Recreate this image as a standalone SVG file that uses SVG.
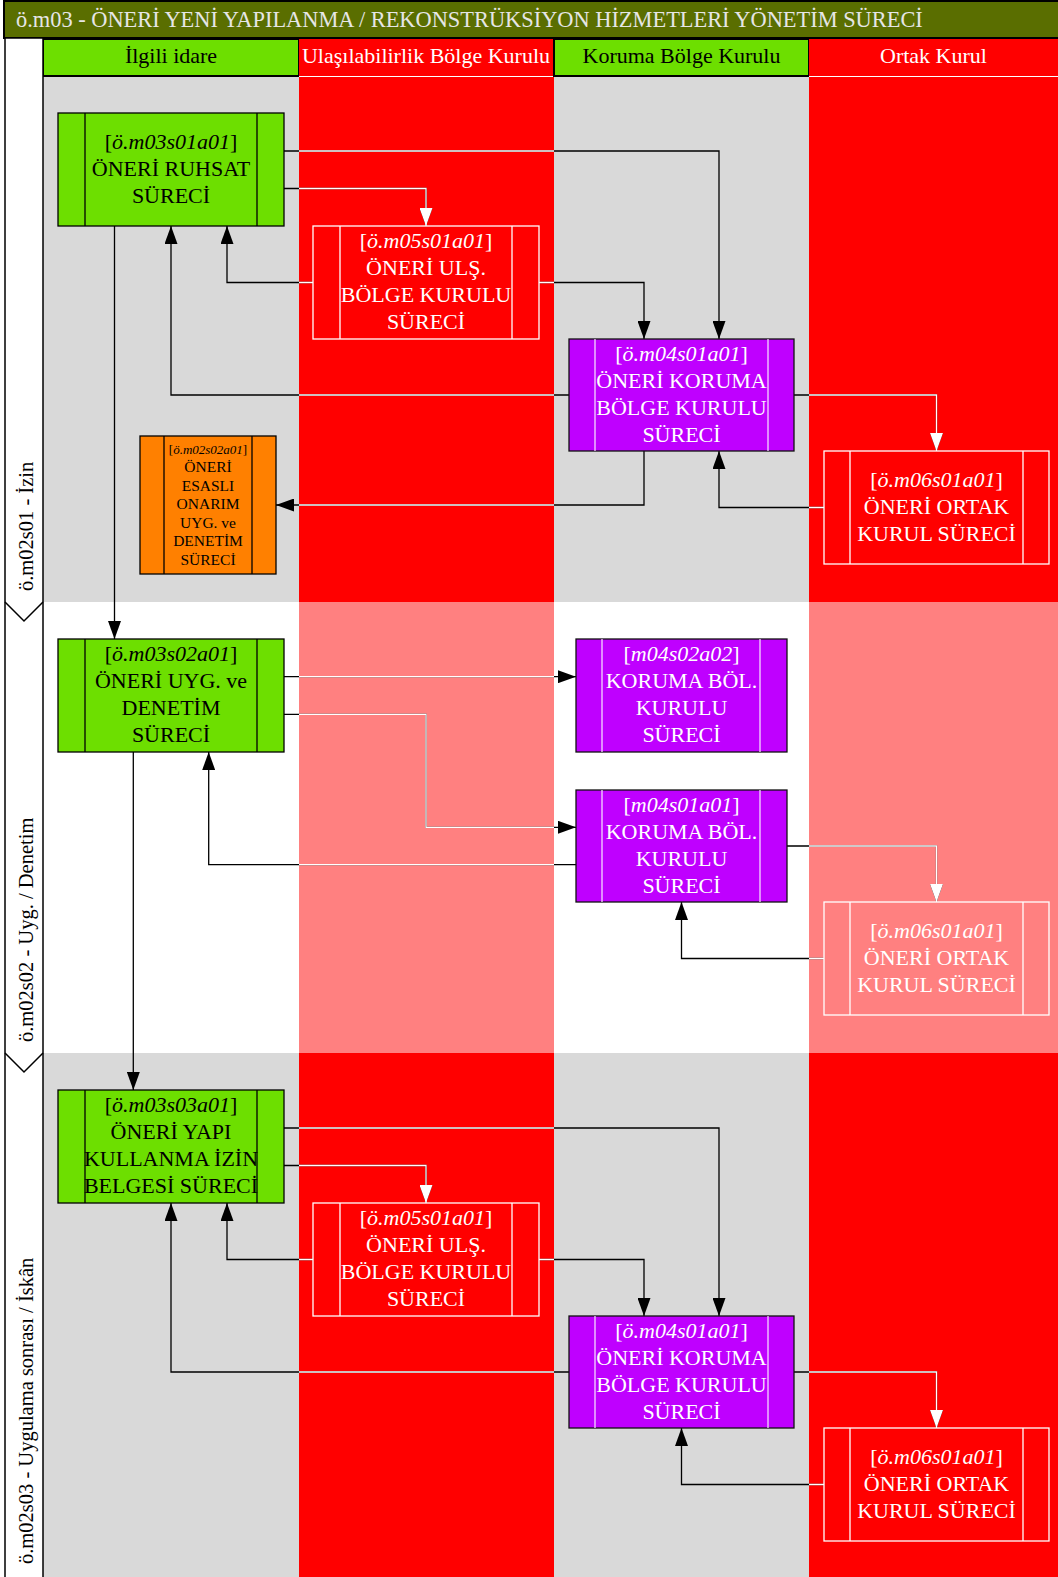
<svg xmlns="http://www.w3.org/2000/svg" xmlns:xlink="http://www.w3.org/1999/xlink" width="1058" height="1577" viewBox="0 0 1058 1577">
<style>
.t{font-family:"Liberation Serif","Times New Roman",serif;font-size:22px;text-anchor:middle}
.s{font-size:15.5px}
.xs{font-size:13px}
.i{font-style:italic}
.k{fill:#000}
.w{fill:#fff}
.gn{fill:#6ddf00;stroke:#000;stroke-width:1.3}
.rn{fill:none;stroke:#fff;stroke-width:1.3}
.pn{fill:#bf00ff;stroke:#111;stroke-width:1.3}
.on{fill:#ff8000;stroke:#000;stroke-width:1.3}
.lk{stroke:#000;stroke-width:1.3}
.lw{stroke:#fff;stroke-width:1.3}
.lp{stroke:#f4d8ff;stroke-width:1.3}
</style>
<defs>
<marker id="ab" markerUnits="userSpaceOnUse" markerWidth="18" markerHeight="13" viewBox="0 0 18 13" refX="18" refY="6.5" orient="auto"><path d="M0,0 L18,6.5 L0,13 Z" fill="#000"/></marker>
<marker id="aw" markerUnits="userSpaceOnUse" markerWidth="18" markerHeight="13" viewBox="0 0 18 13" refX="18" refY="6.5" orient="auto"><path d="M0,0 L18,6.5 L0,13 Z" fill="#fff"/></marker>
<clipPath id="rc"><rect x="299" y="76" width="255" height="1501"/><rect x="809" y="76" width="249" height="1501"/></clipPath>
</defs>

<g id="background">
<rect x="0" y="0" width="1058" height="1577" fill="#fff"/>
<rect x="43" y="76" width="256" height="526" fill="#d9d9d9"/>
<rect x="299" y="76" width="255" height="526" fill="#ff0000"/>
<rect x="554" y="76" width="255" height="526" fill="#d9d9d9"/>
<rect x="809" y="76" width="249" height="526" fill="#ff0000"/>
<rect x="43" y="602" width="256" height="451" fill="#fff"/>
<rect x="299" y="602" width="255" height="451" fill="#ff8080"/>
<rect x="554" y="602" width="255" height="451" fill="#fff"/>
<rect x="809" y="602" width="249" height="451" fill="#ff8080"/>
<rect x="43" y="1053" width="256" height="524" fill="#d9d9d9"/>
<rect x="299" y="1053" width="255" height="524" fill="#ff0000"/>
<rect x="554" y="1053" width="255" height="524" fill="#d9d9d9"/>
<rect x="809" y="1053" width="249" height="524" fill="#ff0000"/>
</g>

<g id="title">
<rect x="4" y="1" width="1060" height="37" fill="#5a6e00" stroke="#000" stroke-width="2"/>
<text x="16" y="27" class="t" style="text-anchor:start;font-size:22.4px" fill="#e6e6e6">ö.m03 - ÖNERİ YENİ YAPILANMA / REKONSTRÜKSİYON HİZMETLERİ YÖNETİM SÜRECİ</text>
</g>

<g id="lane-headers">
<rect x="43" y="39" width="256" height="37" fill="#6ddf00" stroke="#000" stroke-width="2"/>
<text x="171" y="63" class="t k">İlgili idare</text>
<rect x="299" y="39" width="255" height="37" fill="#ff0000"/>
<line x1="299" y1="76.5" x2="554" y2="76.5" stroke="#fff" stroke-width="1"/>
<text x="426" y="63" class="t w">Ulaşılabilirlik Bölge Kurulu</text>
<rect x="554" y="39" width="255" height="37" fill="#6ddf00" stroke="#000" stroke-width="2"/>
<text x="681.5" y="63" class="t k">Koruma Bölge Kurulu</text>
<rect x="809" y="39" width="249" height="37" fill="#ff0000"/>
<line x1="809" y1="76.5" x2="1058" y2="76.5" stroke="#fff" stroke-width="1"/>
<text x="933.5" y="63" class="t w">Ortak Kurul</text>
</g>

<g id="phase-labels">
<rect x="5" y="38" width="38" height="1541" fill="#fff" stroke="#000" stroke-width="1.5"/>
<polyline points="5,602 24,621 43,602" fill="none" stroke="#000" stroke-width="1.5"/>
<polyline points="5,1053 24,1072 43,1053" fill="none" stroke="#000" stroke-width="1.5"/>
<text transform="translate(33,591) rotate(-90)" class="t k" style="text-anchor:start;font-size:20.5px">ö.m02s01 - İzin</text>
<text transform="translate(33,1042) rotate(-90)" class="t k" style="text-anchor:start;font-size:20.5px">ö.m02s02 - Uyg. / Denetim</text>
<text transform="translate(33,1564) rotate(-90)" class="t k" style="text-anchor:start;font-size:20.5px">ö.m02s03 - Uygulama sonrası / İskân</text>
</g>

<g id="connectors" fill="none">
<g stroke="#000" stroke-width="1.3" marker-end="url(#ab)">
<g id="cp">
<path d="M284,151 H719 V339"/>
<path d="M284,188.5 H426 V226"/>
<path d="M313,282.5 H227 V226"/>
<path d="M539,282.5 H644 V339"/>
<path d="M569,395 H171 V226"/>
<path d="M794,395 H936.5 V451"/>
<path d="M644,451 V505 H276"/>
<path d="M824,507.5 H719 V451"/>
<path d="M114.5,226 V639"/>
<path d="M284,676.7 H576"/>
<path d="M284,714.3 H426 V827.3 H576"/>
<path d="M576,864.7 H208.7 V752"/>
<path d="M787,846 H936.5 V902"/>
<path d="M824,958.5 H681.5 V902"/>
<path d="M133.3,752 V1090"/>
<path d="M284,1128 H719 V1316"/>
<path d="M284,1165.5 H426 V1203"/>
<path d="M313,1259.5 H227 V1203"/>
<path d="M539,1259.5 H644 V1316"/>
<path d="M569,1372 H171 V1203"/>
<path d="M794,1372 H936.5 V1428"/>
<path d="M824,1484.5 H681.5 V1428"/>
</g>
</g>
<use xlink:href="#cp" href="#cp" stroke="#fff" stroke-width="1.3" marker-end="url(#aw)" clip-path="url(#rc)"/>
</g>

<g id="n-m03s01a01">
<rect x="58" y="113" width="226" height="113" class="gn"/>
<line x1="85" y1="113" x2="85" y2="226" class="lk"/><line x1="257" y1="113" x2="257" y2="226" class="lk"/>
<text class="t k"><tspan x="171" y="149">[<tspan class="i">ö.m03s01a01</tspan>]</tspan><tspan x="171" y="176">ÖNERİ RUHSAT</tspan><tspan x="171" y="203">SÜRECİ</tspan></text>
</g>

<g id="n-m05s01a01-1">
<rect x="313" y="226" width="226" height="113" class="rn"/>
<line x1="340" y1="226" x2="340" y2="339" class="lw"/><line x1="512" y1="226" x2="512" y2="339" class="lw"/>
<text class="t w"><tspan x="426" y="248">[<tspan class="i">ö.m05s01a01</tspan>]</tspan><tspan x="426" y="275">ÖNERİ ULŞ.</tspan><tspan x="426" y="302">BÖLGE KURULU</tspan><tspan x="426" y="329">SÜRECİ</tspan></text>
</g>

<g id="n-m04s01a01-1">
<rect x="569" y="339" width="225" height="112" class="pn"/>
<line x1="595" y1="339" x2="595" y2="451" class="lp"/><line x1="768" y1="339" x2="768" y2="451" class="lp"/>
<text class="t w"><tspan x="681.5" y="361">[<tspan class="i">ö.m04s01a01</tspan>]</tspan><tspan x="681.5" y="388">ÖNERİ KORUMA</tspan><tspan x="681.5" y="415">BÖLGE KURULU</tspan><tspan x="681.5" y="442">SÜRECİ</tspan></text>
</g>

<g id="n-m06s01a01-1">
<rect x="824" y="451" width="225" height="113" class="rn"/>
<line x1="850" y1="451" x2="850" y2="564" class="lw"/><line x1="1023" y1="451" x2="1023" y2="564" class="lw"/>
<text class="t w"><tspan x="936.5" y="487">[<tspan class="i">ö.m06s01a01</tspan>]</tspan><tspan x="936.5" y="514">ÖNERİ ORTAK</tspan><tspan x="936.5" y="541">KURUL SÜRECİ</tspan></text>
</g>

<g id="n-m02s02a01">
<rect x="140" y="436" width="136" height="138" class="on"/>
<line x1="164" y1="436" x2="164" y2="574" class="lk"/><line x1="252" y1="436" x2="252" y2="574" class="lk"/>
<text class="t k s"><tspan x="208" y="454" class="xs">[<tspan class="i">ö.m02s02a01</tspan>]</tspan><tspan x="208" y="472">ÖNERİ</tspan><tspan x="208" y="490.5">ESASLI</tspan><tspan x="208" y="509">ONARIM</tspan><tspan x="208" y="527.5">UYG. ve</tspan><tspan x="208" y="546">DENETİM</tspan><tspan x="208" y="564.5">SÜRECİ</tspan></text>
</g>

<g id="n-m03s02a01">
<rect x="58" y="639" width="226" height="113" class="gn"/>
<line x1="85" y1="639" x2="85" y2="752" class="lk"/><line x1="257" y1="639" x2="257" y2="752" class="lk"/>
<text class="t k"><tspan x="171" y="661">[<tspan class="i">ö.m03s02a01</tspan>]</tspan><tspan x="171" y="688">ÖNERİ UYG. ve</tspan><tspan x="171" y="715">DENETİM</tspan><tspan x="171" y="742">SÜRECİ</tspan></text>
</g>

<g id="n-m04s02a02">
<rect x="576" y="639" width="211" height="113" class="pn"/>
<line x1="602" y1="639" x2="602" y2="752" class="lp"/><line x1="760" y1="639" x2="760" y2="752" class="lp"/>
<text class="t w"><tspan x="681.5" y="661">[<tspan class="i">m04s02a02</tspan>]</tspan><tspan x="681.5" y="688">KORUMA BÖL.</tspan><tspan x="681.5" y="715">KURULU</tspan><tspan x="681.5" y="742">SÜRECİ</tspan></text>
</g>

<g id="n-m04s01a01-2">
<rect x="576" y="790" width="211" height="112" class="pn"/>
<line x1="602" y1="790" x2="602" y2="902" class="lp"/><line x1="760" y1="790" x2="760" y2="902" class="lp"/>
<text class="t w"><tspan x="681.5" y="812">[<tspan class="i">m04s01a01</tspan>]</tspan><tspan x="681.5" y="839">KORUMA BÖL.</tspan><tspan x="681.5" y="866">KURULU</tspan><tspan x="681.5" y="893">SÜRECİ</tspan></text>
</g>

<g id="n-m06s01a01-2">
<rect x="824" y="902" width="225" height="113" class="rn"/>
<line x1="850" y1="902" x2="850" y2="1015" class="lw"/><line x1="1023" y1="902" x2="1023" y2="1015" class="lw"/>
<text class="t w"><tspan x="936.5" y="938">[<tspan class="i">ö.m06s01a01</tspan>]</tspan><tspan x="936.5" y="965">ÖNERİ ORTAK</tspan><tspan x="936.5" y="992">KURUL SÜRECİ</tspan></text>
</g>

<g id="n-m03s03a01">
<rect x="58" y="1090" width="226" height="113" class="gn"/>
<line x1="85" y1="1090" x2="85" y2="1203" class="lk"/><line x1="257" y1="1090" x2="257" y2="1203" class="lk"/>
<text class="t k"><tspan x="171" y="1112">[<tspan class="i">ö.m03s03a01</tspan>]</tspan><tspan x="171" y="1139">ÖNERİ YAPI</tspan><tspan x="171" y="1166">KULLANMA İZİN</tspan><tspan x="171" y="1193">BELGESİ SÜRECİ</tspan></text>
</g>

<g id="n-m05s01a01-3">
<rect x="313" y="1203" width="226" height="113" class="rn"/>
<line x1="340" y1="1203" x2="340" y2="1316" class="lw"/><line x1="512" y1="1203" x2="512" y2="1316" class="lw"/>
<text class="t w"><tspan x="426" y="1225">[<tspan class="i">ö.m05s01a01</tspan>]</tspan><tspan x="426" y="1252">ÖNERİ ULŞ.</tspan><tspan x="426" y="1279">BÖLGE KURULU</tspan><tspan x="426" y="1306">SÜRECİ</tspan></text>
</g>

<g id="n-m04s01a01-3">
<rect x="569" y="1316" width="225" height="112" class="pn"/>
<line x1="595" y1="1316" x2="595" y2="1428" class="lp"/><line x1="768" y1="1316" x2="768" y2="1428" class="lp"/>
<text class="t w"><tspan x="681.5" y="1338">[<tspan class="i">ö.m04s01a01</tspan>]</tspan><tspan x="681.5" y="1365">ÖNERİ KORUMA</tspan><tspan x="681.5" y="1392">BÖLGE KURULU</tspan><tspan x="681.5" y="1419">SÜRECİ</tspan></text>
</g>

<g id="n-m06s01a01-3">
<rect x="824" y="1428" width="225" height="113" class="rn"/>
<line x1="850" y1="1428" x2="850" y2="1541" class="lw"/><line x1="1023" y1="1428" x2="1023" y2="1541" class="lw"/>
<text class="t w"><tspan x="936.5" y="1464">[<tspan class="i">ö.m06s01a01</tspan>]</tspan><tspan x="936.5" y="1491">ÖNERİ ORTAK</tspan><tspan x="936.5" y="1518">KURUL SÜRECİ</tspan></text>
</g>
</svg>
